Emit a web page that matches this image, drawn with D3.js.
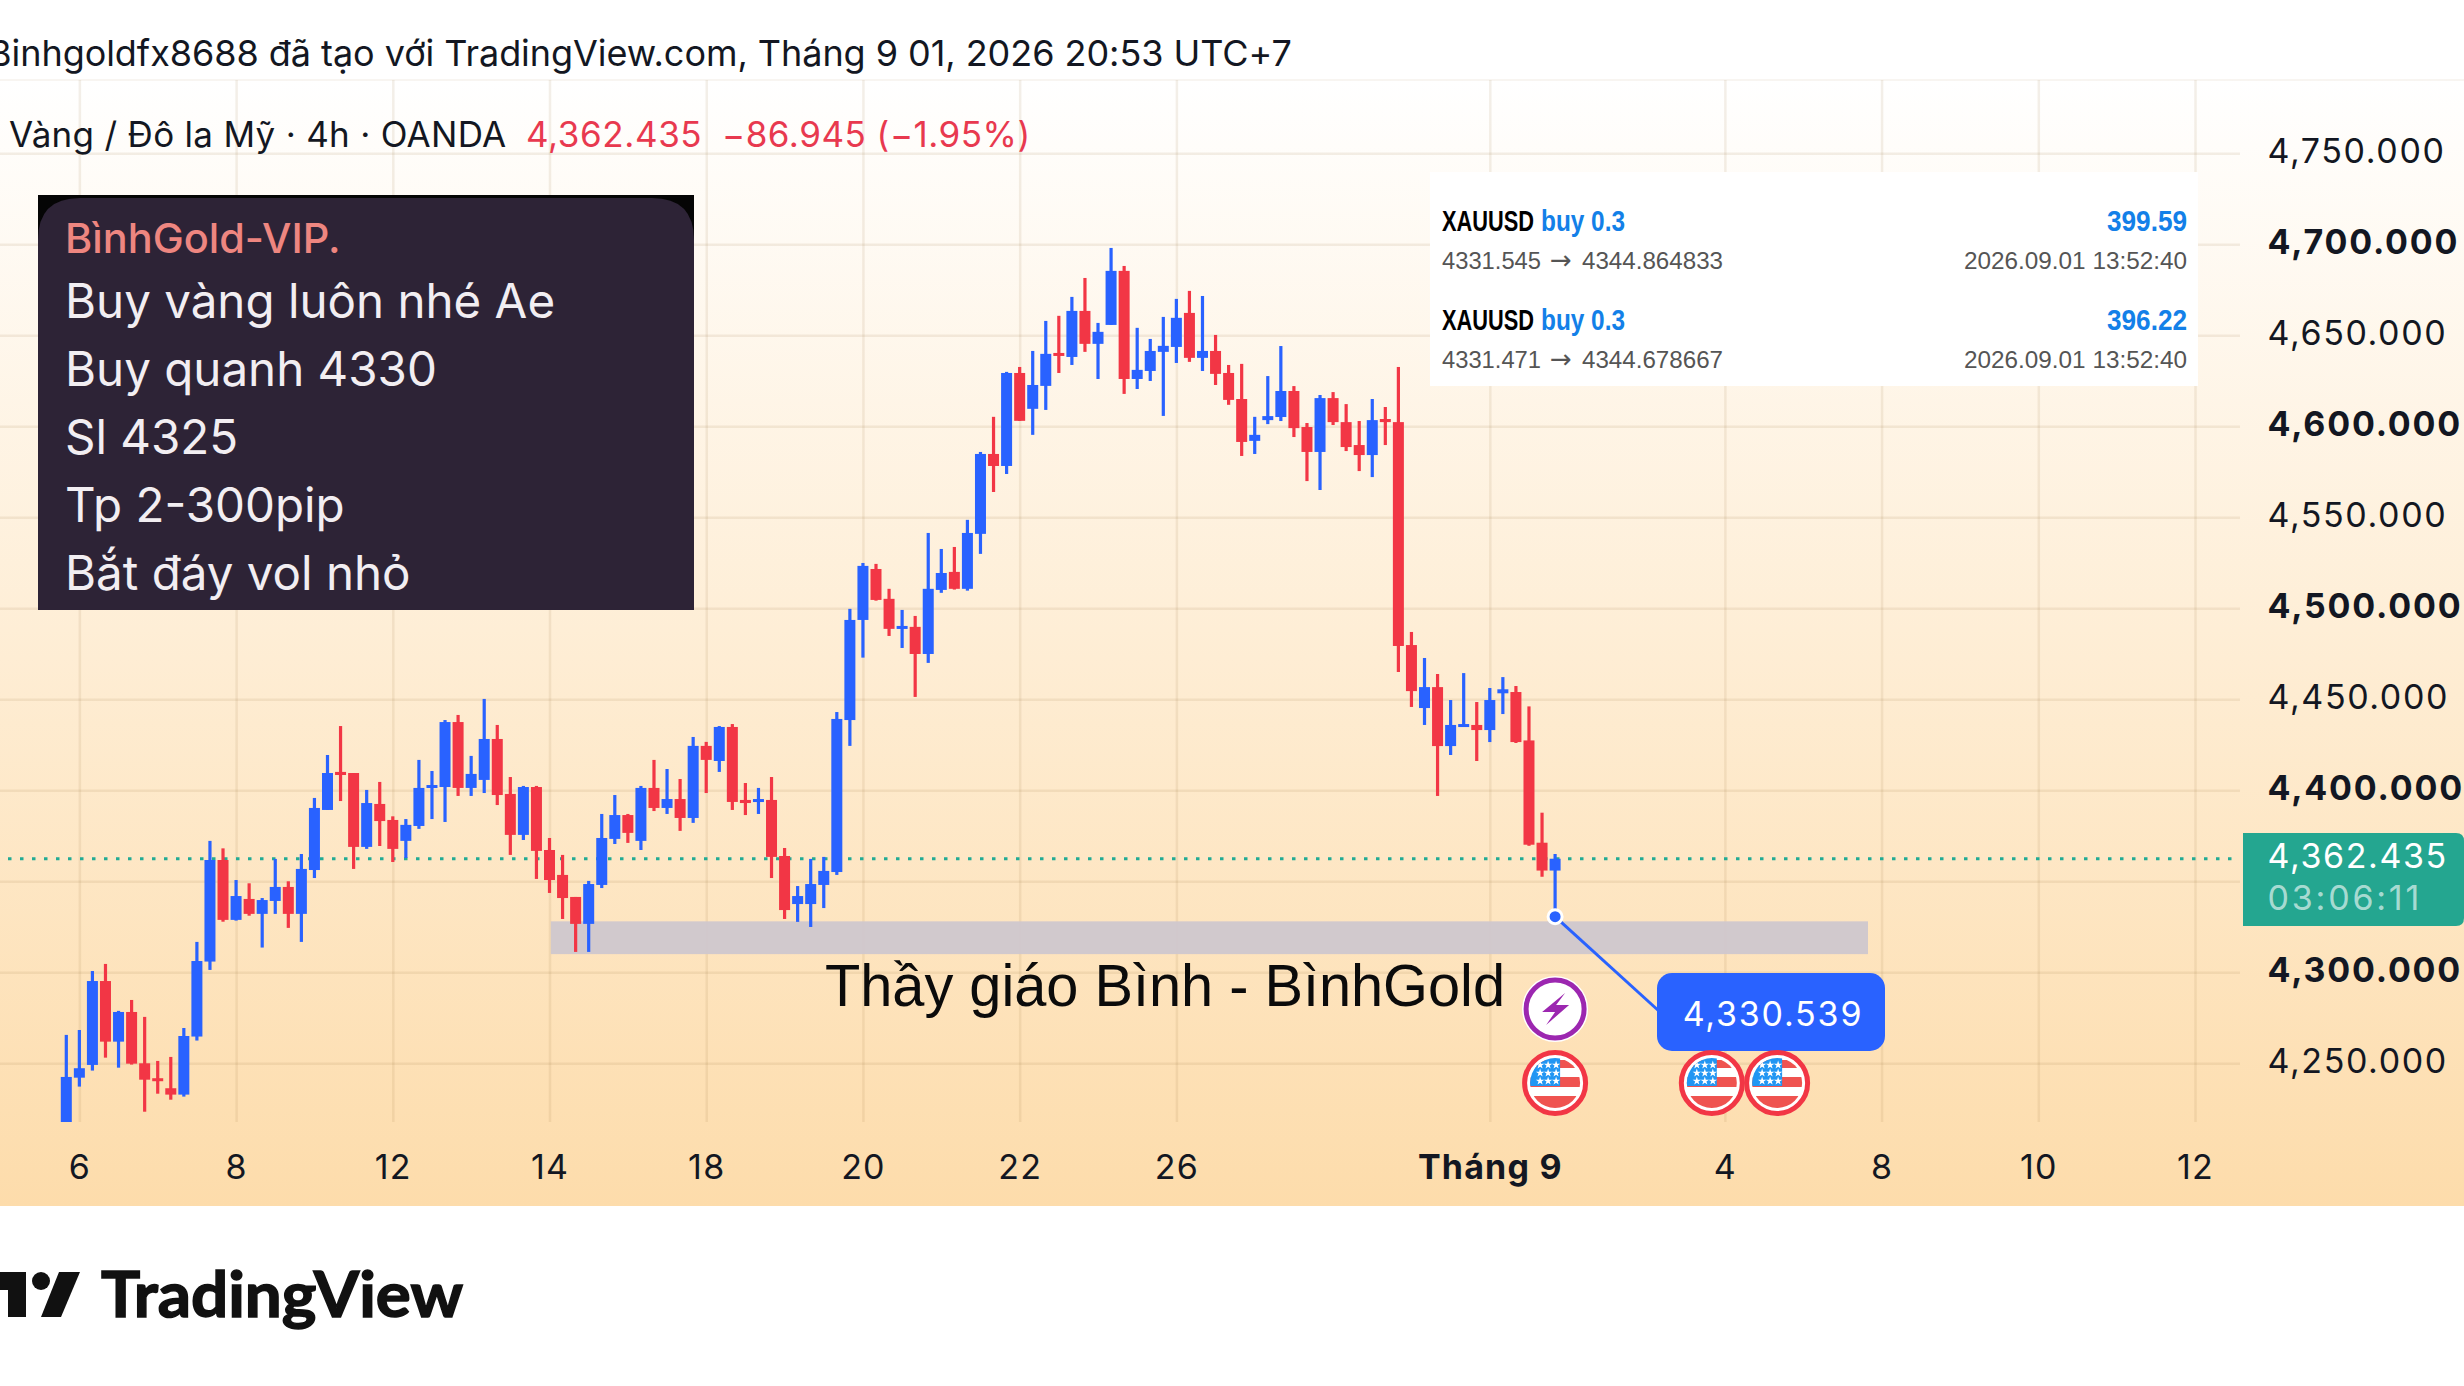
<!DOCTYPE html>
<html><head><meta charset="utf-8">
<script src="https://cdn.jsdelivr.net/npm/d3@7"></script>
<style>html,body{margin:0;padding:0;background:#fff;overflow:hidden}svg{display:block}</style>
</head><body>
<script>
const opens=[4210,4242.1,4249.1,4295.2,4261.9,4278.2,4250.0,4241.8,4236.3,4232.8,
4264.7,4305.9,4361.7,4328.8,4340.3,4332.1,4339.2,4346.9,4332.1,4356.2,
4389.2,4410.1,4409.5,4368.9,4392.5,4383.7,4372.2,4380.4,4401.6,4401.8,
4437.5,4401.3,4405.7,4428.2,4398.0,4375.5,4401.8,4367.2,4353.5,4341.4,
4326.6,4348.0,4373.3,4386.4,4372.2,4401.3,4390.3,4395.2,4384.8,4424.4,
4416.1,4434.8,4394.7,4393.6,4394.7,4363.9,4337.5,4337.5,4348.0,4355.1,
4438.6,4493.6,4521.6,4505.2,4488.7,4489.8,4474.9,4510.1,4520.0,4510.7,
4540.9,4584.8,4578.2,4629.3,4609.6,4622.2,4640.3,4638.1,4663.4,4645.3,
4655.7,4685.4,4626.0,4630.4,4640.9,4643.6,4662.3,4637.6,4641.4,4629.3,
4615.0,4592.0,4603.4,4605.1,4619.4,4599.6,4585.9,4615.5,4602.3,4589.7,
4584.2,4604.0,4602.3,4479.8,4445.2,4456.7,4424.3,4434.8,4435.9,4433.1,
4453.3,4454.0,4427.4,4371.2,4355.9];
const highs=[4265.6,4268.3,4300.7,4304.6,4278.8,4284.8,4275.5,4251.3,4253.5,4269.4,
4316.7,4372.2,4368.1,4350.7,4348.9,4340.8,4362.3,4350.0,4365.0,4395.8,
4419.4,4435.3,4409.5,4400.2,4404.6,4385.7,4384.2,4416.7,4410.6,4438.6,
4441.4,4418.9,4450.2,4435.9,4407.3,4402.4,4402.4,4373.8,4364.5,4341.4,
4350.2,4387.0,4397.4,4387.0,4402.4,4416.7,4411.7,4406.2,4429.3,4426.6,
4435.3,4436.4,4404.0,4401.3,4407.3,4368.3,4347.4,4362.3,4363.4,4443.0,
4499.7,4524.9,4524.4,4510.7,4499.1,4495.8,4541.4,4532.6,4533.7,4548.6,
4585.9,4605.2,4629.9,4632.6,4641.4,4657.9,4660.7,4671.1,4681.5,4656.8,
4698.0,4688.1,4654.1,4648.0,4660.1,4670.0,4674.4,4671.6,4650.2,4633.7,
4634.3,4605.2,4627.6,4644.1,4622.1,4601.8,4617.2,4618.8,4612.2,4602.9,
4615.0,4610.6,4632.6,4487.0,4472.7,4463.9,4449.6,4464.4,4448.5,4456.2,
4462.2,4457.3,4446.1,4387.7,4365.0];
const lows=[4205,4237.2,4246.0,4253.1,4247.6,4249.3,4223.4,4233.3,4230.0,4231.7,
4262.5,4301.3,4327.8,4328.4,4331.1,4313.6,4332.1,4324.4,4316.7,4351.8,
4389.2,4394.1,4356.8,4367.8,4369.4,4360.6,4362.8,4378.8,4384.2,4382.6,
4396.9,4396.9,4398.5,4391.9,4364.5,4372.7,4351.3,4343.6,4329.3,4311.2,
4311.2,4346.3,4370.5,4371.1,4367.2,4388.6,4387.0,4377.7,4382.1,4398.5,
4410.1,4389.2,4386.4,4387.0,4351.8,4329.3,4327.7,4324.9,4335.3,4353.5,
4424.4,4472.9,4504.2,4484.8,4478.2,4451.3,4470.0,4508.5,4510.3,4509.7,
4529.9,4563.9,4573.8,4603.0,4595.3,4609.0,4629.3,4633.7,4640.9,4626.0,
4655.7,4617.8,4620.5,4624.9,4605.7,4634.8,4635.4,4630.4,4622.7,4611.8,
4583.7,4584.8,4601.2,4602.9,4594.1,4569.9,4565.0,4600.7,4586.4,4575.4,
4572.1,4589.7,4465.0,4445.8,4435.9,4396.9,4419.4,4434.8,4416.1,4426.5,
4441.9,4426.0,4369.5,4352.5,4330.5];
const closes=[4242.5,4247.3,4295.2,4261.9,4278.2,4249.8,4241.0,4240.5,4232.8,4265.0,
4306.2,4361.7,4328.8,4341.9,4332.1,4339.7,4346.9,4332.1,4356.8,4390.3,
4409.5,4408.4,4368.9,4393.0,4383.1,4367.8,4381.0,4401.3,4402.9,4437.5,
4401.3,4409.0,4428.2,4397.4,4375.5,4401.8,4366.7,4350.7,4340.8,4326.6,
4348.5,4373.8,4386.4,4376.6,4401.3,4390.3,4395.2,4384.8,4424.4,4416.7,
4434.8,4393.6,4393.0,4395.2,4363.4,4334.2,4341.9,4348.5,4355.7,4439.2,
4493.6,4523.3,4504.6,4488.7,4490.3,4474.9,4510.7,4519.4,4510.7,4541.4,
4584.8,4578.2,4629.3,4603.0,4622.7,4639.8,4638.7,4663.4,4645.3,4651.9,
4685.4,4626.0,4631.0,4641.4,4644.2,4659.6,4637.6,4641.4,4628.8,4614.5,
4591.4,4595.3,4605.6,4619.4,4599.0,4585.9,4615.5,4602.3,4588.6,4584.2,
4603.4,4602.3,4479.3,4454.5,4456.7,4424.3,4435.9,4436.4,4433.1,4449.6,
4455.5,4426.5,4370.1,4355.9,4362.4];

const priceTicks=[4750,4700,4650,4600,4550,4500,4450,4400,4350,4300,4250];
const boldPrices=[4700,4600,4500,4400,4300];
const timeIdx=[1,13,25,37,49,61,73,85,109,127,139,151,163];
const timeLabels=["6","8","12","14","18","20","22","26","Tháng 9","4","8","10","12"];
const lastPrice=4362.435, countdown="03:06:11", pivotPrice=4330.539;
const zonePrices=[4328,4310], zoneIdx=[37.1,137.96];
const eventBolt=[114], eventFlags=[114,126,131];
const noteLines=["Buy vàng luôn nhé Ae","Buy quanh 4330","Sl 4325","Tp 2-300pip","Bắt đáy vol nhỏ"];

const W=2464,H=1386;
const FONT="Inter, 'Noto Sans', sans-serif";
const x=d3.scaleLinear().domain([0,114]).range([66.3,1555.1]);
const y=d3.scaleLinear().domain([4250,4750]).range([1063.3,153.3]);
const paneTop=80, paneBottom=1206, plotBottom=1122, plotRight=2240;

const svg=d3.select("body").append("svg").attr("width",W).attr("height",H);
const defs=svg.append("defs");
const g=defs.append("linearGradient").attr("id","bg").attr("x1",0).attr("x2",0).attr("y1",0).attr("y2",1);
g.append("stop").attr("offset",0).attr("stop-color","#ffffff");
g.append("stop").attr("offset",1).attr("stop-color","#fddcab");
defs.append("clipPath").attr("id","plot").append("rect").attr("x",0).attr("y",paneTop).attr("width",plotRight).attr("height",plotBottom-paneTop);
defs.append("clipPath").attr("id","flagClip").append("circle").attr("r",25);

svg.append("rect").attr("width",W).attr("height",H).attr("fill","#fff");
svg.append("rect").attr("x",0).attr("y",paneTop).attr("width",W).attr("height",paneBottom-paneTop).attr("fill","url(#bg)");
svg.append("line").attr("x1",0).attr("x2",W).attr("y1",paneTop).attr("y2",paneTop).attr("stroke","rgba(150,110,60,0.07)").attr("stroke-width",2);

const gridC="rgba(150,105,55,0.11)";
const gx=svg.append("g").attr("transform",`translate(0,${plotBottom})`)
  .call(d3.axisBottom(x).tickValues(timeIdx).tickSize(-(plotBottom-paneTop)).tickFormat((d,i)=>timeLabels[i]));
gx.select(".domain").remove();
gx.selectAll("line").attr("stroke",gridC).attr("stroke-width",2.5);
gx.selectAll("text").attr("y",0).attr("dy",57).attr("fill","#131722").attr("font-family",FONT).attr("font-size",34)
  .attr("letter-spacing",1.2).attr("font-weight",(d,i)=>timeLabels[i]==="Tháng 9"?700:400).attr("text-anchor","middle");

const gy=svg.append("g").attr("transform",`translate(${plotRight},0)`)
  .call(d3.axisRight(y).tickValues(priceTicks).tickSize(-plotRight).tickPadding(27.5).tickFormat(d3.format(",.3f")));
gy.select(".domain").remove();
gy.selectAll("line").attr("stroke",gridC).attr("stroke-width",2.5);
gy.selectAll("text").attr("dy",9.5).attr("fill","#131722").attr("font-family",FONT).attr("font-size",34)
  .attr("letter-spacing",d=>boldPrices.includes(d)?1.8:1.6).attr("font-weight",d=>boldPrices.includes(d)?700:400);

svg.append("rect").attr("x",x(zoneIdx[0])).attr("width",x(zoneIdx[1])-x(zoneIdx[0]))
  .attr("y",y(zonePrices[0])).attr("height",y(zonePrices[1])-y(zonePrices[0])).attr("fill","#cfc7cd").attr("fill-opacity",0.95);

svg.append("line").attr("x1",8).attr("x2",2232).attr("y1",y(lastPrice)).attr("y2",y(lastPrice))
  .attr("stroke","#22ab94").attr("stroke-width",3).attr("stroke-dasharray","3.5 8.5");

const BLUE="#2962ff",RED="#f23645";
const candles=opens.map((o,i)=>({i,o,h:highs[i],l:lows[i],c:closes[i]}));
const cg=svg.append("g").attr("clip-path","url(#plot)");
const color=d=>d.c>=d.o?BLUE:RED;
cg.selectAll(".wick").data(candles).join("rect").attr("class","wick")
  .attr("x",d=>x(d.i)-1.6).attr("width",3.2).attr("y",d=>y(d.h)).attr("height",d=>y(d.l)-y(d.h)).attr("fill",color);
cg.selectAll(".body").data(candles).join("rect").attr("class","body")
  .attr("x",d=>x(d.i)-5.5).attr("width",11)
  .attr("y",d=>y(Math.max(d.o,d.c)))
  .attr("height",d=>Math.max(3,Math.abs(y(d.o)-y(d.c)))).attr("fill",color);

const px=x(114),py=y(pivotPrice);
svg.append("line").attr("x1",px).attr("y1",py).attr("x2",1660).attr("y2",1012).attr("stroke",BLUE).attr("stroke-width",3);
svg.append("circle").attr("cx",px).attr("cy",py).attr("r",7).attr("fill",BLUE).attr("stroke","#fff").attr("stroke-width",3);
svg.append("rect").attr("x",1657).attr("y",973).attr("width",228).attr("height",78).attr("rx",15).attr("fill",BLUE);
svg.append("text").attr("x",1773).attr("y",1026).attr("text-anchor","middle").attr("fill","#fff")
  .attr("font-family",FONT).attr("font-size",34).attr("letter-spacing",1.8).text(d3.format(",.3f")(pivotPrice));

svg.append("text").attr("x",825).attr("y",1006).attr("fill","#0b0b0b")
  .attr("font-family","'Liberation Sans', Arial, sans-serif").attr("font-size",60)
  .attr("textLength",680).attr("lengthAdjust","spacingAndGlyphs").text("Thầy giáo Bình - BìnhGold");

const bolt=svg.selectAll(".bolt").data(eventBolt).join("g").attr("class","bolt")
  .attr("transform",d=>`translate(${x(d)},1009)`);
bolt.append("circle").attr("r",33).attr("fill","#fff");
bolt.append("circle").attr("r",29).attr("fill","#fff").attr("stroke","#9c27b0").attr("stroke-width",5);
bolt.append("polygon").attr("points","10,-16 -13,3 0,3 -9,16 14,-4 1,-4").attr("fill","#9c27b0");

const flags=svg.selectAll(".flag").data(eventFlags).join("g").attr("class","flag")
  .attr("transform",d=>`translate(${x(d)},1083)`);
flags.append("circle").attr("r",30.5).attr("fill","#fff").attr("stroke","#f23645").attr("stroke-width",5);
const inner=flags.append("g").attr("clip-path","url(#flagClip)");
[[-23,8],[-6,10],[13,12]].forEach(([yy,h])=>inner.append("rect").attr("x",-26).attr("y",yy).attr("width",52).attr("height",h).attr("fill","#ef5350"));
inner.append("rect").attr("x",-26).attr("y",-25).attr("width",31).attr("height",28).attr("fill","#2196f3");
const star=d3.symbol().type(d3.symbolStar).size(22)();
[-18,-10,-2].forEach(sy=>[-15,-7,1].forEach(sx=>inner.append("path").attr("d",star).attr("transform",`translate(${sx},${sy})`).attr("fill","#fff")));

svg.append("path").attr("d","M2243,833 H2456 Q2464,833 2464,841 V918 Q2464,926 2456,926 H2243 Z").attr("fill","#24a690");
svg.append("text").attr("x",2267.5).attr("y",868).attr("fill","#fff").attr("font-family",FONT).attr("font-size",34).attr("letter-spacing",1.6).text(d3.format(",.3f")(lastPrice));
svg.append("text").attr("x",2267.5).attr("y",910).attr("fill","rgba(255,255,255,0.62)").attr("font-family",FONT).attr("font-size",34).attr("letter-spacing",2.8).text(countdown);

svg.append("text").attr("x",-12).attr("y",66).attr("fill","#131722").attr("font-family",FONT).attr("font-size",36).attr("letter-spacing",-0.05)
  .text("Binhgoldfx8688 đã tạo với TradingView.com, Tháng 9 01, 2026 20:53 UTC+7");
svg.append("text").attr("x",9).attr("y",147).attr("fill","#131722").attr("font-family",FONT).attr("font-size",35).attr("letter-spacing",0.3).text("Vàng / Đô la Mỹ · 4h · OANDA");
svg.append("text").attr("x",526).attr("y",147).attr("fill","#e8394f").attr("font-family",FONT).attr("font-size",35).attr("letter-spacing",0.6).text("4,362.435");
svg.append("text").attr("x",722).attr("y",147).attr("fill","#e8394f").attr("font-family",FONT).attr("font-size",35).attr("letter-spacing",0.5).text("−86.945 (−1.95%)");

svg.append("rect").attr("x",38).attr("y",195).attr("width",656).attr("height",60).attr("fill","#050505");
svg.append("path").attr("d","M38,610 V240 Q38,198 80,198 H652 Q694,198 694,240 V610 Z").attr("fill","#2d2336");
svg.append("text").attr("x",65).attr("y",253).attr("fill","#ee8680").attr("font-family",FONT).attr("font-weight",500).attr("font-size",41.5).text("BìnhGold-VIP.");
noteLines.forEach((t,i)=>svg.append("text").attr("x",65).attr("y",318+i*68).attr("fill","#f2eef2").attr("font-family",FONT).attr("font-size",47.5).text(t));

svg.append("rect").attr("x",1430).attr("y",172).attr("width",768).attr("height",214).attr("fill","#fff");
const narrow="'Liberation Sans Narrow','Liberation Sans',sans-serif";
const helv="'Liberation Sans',sans-serif";
[{sym:"XAUUSD",side:"buy 0.3",pl:"399.59",entry:"4331.545",exit:"4344.864833",base:231},
 {sym:"XAUUSD",side:"buy 0.3",pl:"396.22",entry:"4331.471",exit:"4344.678667",base:330}].forEach(r=>{
  svg.append("text").attr("x",1442).attr("y",r.base).attr("font-family",narrow).attr("font-weight",700).attr("font-size",30).attr("fill","#000").attr("textLength",92).attr("lengthAdjust","spacingAndGlyphs").text(r.sym);
  svg.append("text").attr("x",1541).attr("y",r.base).attr("font-family",narrow).attr("font-weight",700).attr("font-size",30).attr("fill","#1380e8").attr("textLength",84).attr("lengthAdjust","spacingAndGlyphs").text(r.side);
  svg.append("text").attr("x",2107).attr("y",r.base).attr("font-family",narrow).attr("font-weight",700).attr("font-size",30).attr("fill","#1380e8").attr("textLength",80).attr("lengthAdjust","spacingAndGlyphs").text(r.pl);
  svg.append("text").attr("x",1442).attr("y",r.base+38).attr("font-family",helv).attr("font-size",23).attr("fill","#555").attr("textLength",99).attr("lengthAdjust","spacingAndGlyphs").text(r.entry);
  svg.append("text").attr("x",1550).attr("y",r.base+38).attr("font-family","'DejaVu Sans',sans-serif").attr("font-size",26).attr("fill","#555").text("→");
  svg.append("text").attr("x",1582).attr("y",r.base+38).attr("font-family",helv).attr("font-size",23).attr("fill","#555").attr("textLength",141).attr("lengthAdjust","spacingAndGlyphs").text(r.exit);
  svg.append("text").attr("x",1964).attr("y",r.base+38).attr("font-family",helv).attr("font-size",23).attr("fill","#555").attr("textLength",223).attr("lengthAdjust","spacingAndGlyphs").text("2026.09.01 13:52:40");
});

svg.append("polygon").attr("points","0,1272 26,1272 26,1317 8,1317 8,1290 0,1290").attr("fill","#111");
svg.append("circle").attr("cx",41).attr("cy",1281).attr("r",9).attr("fill","#111");
svg.append("polygon").attr("points","80,1272 61,1317 41,1317 59,1272").attr("fill","#111");
svg.append("text").attr("x",101).attr("y",1317).attr("font-family","Lato, Inter, sans-serif").attr("font-weight",700).attr("font-size",63).attr("fill","#111").attr("stroke","#111").attr("stroke-width",1.5).attr("textLength",362).attr("lengthAdjust","spacingAndGlyphs").text("TradingView");
</script>
</body></html>
